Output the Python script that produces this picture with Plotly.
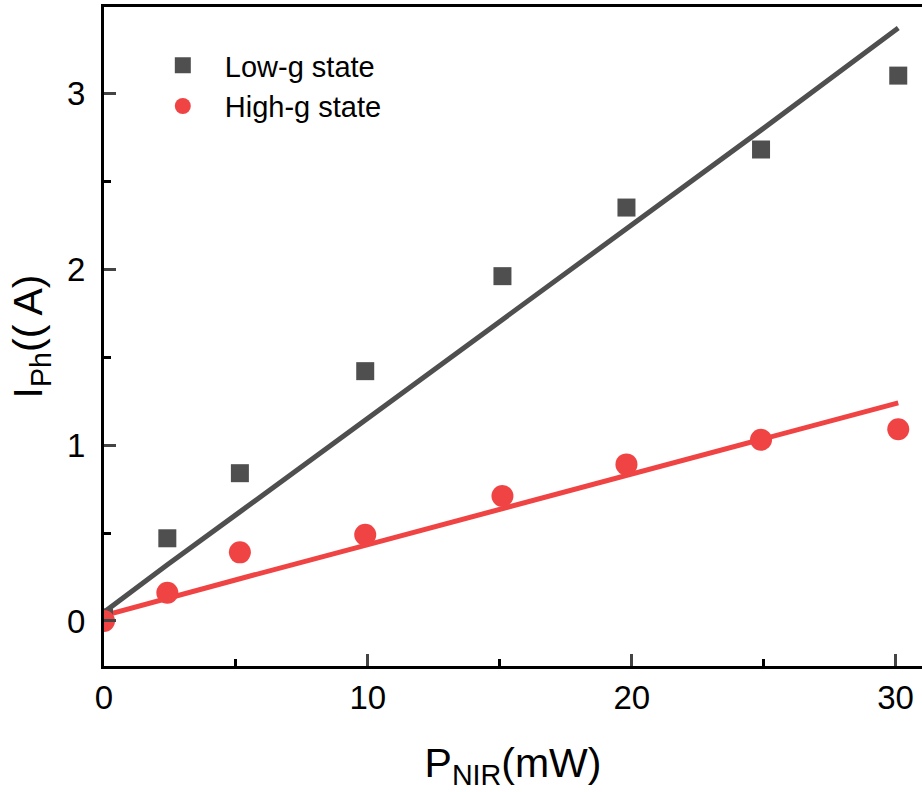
import plotly.graph_objects as go

power = [0, 2.4, 5.15, 9.9, 15.1, 19.8, 24.9, 30.1]
low_g = [0.02, 0.47, 0.84, 1.42, 1.96, 2.35, 2.68, 3.10]
high_g = [0.0, 0.16, 0.39, 0.49, 0.71, 0.89, 1.03, 1.09]
fit_low = [0.05, 0.32, 0.62, 1.14, 1.71, 2.23, 2.79, 3.37]
fit_high = [0.03, 0.13, 0.24, 0.43, 0.64, 0.83, 1.03, 1.24]

gray = "#4f4f4f"
red = "#f04444"

fig = go.Figure()
fig.add_trace(go.Scatter(x=power, y=fit_low, mode="lines", line=dict(color=gray, width=5), showlegend=False))
fig.add_trace(go.Scatter(x=power, y=fit_high, mode="lines", line=dict(color=red, width=5), showlegend=False))
fig.add_trace(go.Scatter(x=power, y=low_g, mode="markers", name="Low-g state", legendgroup="a",
                         marker=dict(symbol="square", size=18, color=gray)))
fig.add_trace(go.Scatter(x=power, y=high_g, mode="markers", name="High-g state", legendgroup="b",
                         marker=dict(symbol="circle", size=22, color=red)))

fig.update_layout(
    width=922, height=792,
    margin=dict(l=104, r=0, t=7, b=126),
    paper_bgcolor="white", plot_bgcolor="white",
    font=dict(family="Arial, Liberation Sans, sans-serif", color="black"),
    legend=dict(x=0.045, y=0.95, xanchor="left", yanchor="top",
                font=dict(size=29), bgcolor="rgba(0,0,0,0)",
                tracegroupgap=0, itemwidth=74),
    xaxis=dict(range=[0, 31.0], tickvals=[0, 10, 20, 30], ticks="inside", ticklen=12, tickwidth=3,
               showline=True, linewidth=3, linecolor="black", mirror=True, showgrid=False, zeroline=False,
               tickfont=dict(size=33),
               minor=dict(tickvals=[5, 15, 25], ticks="inside", ticklen=7, tickwidth=3, tickcolor="black"),
               title=dict(text="P<sub>NIR</sub>(mW)", font=dict(size=41), standoff=34)),
    yaxis=dict(range=[-0.256, 3.49], tickvals=[0, 1, 2, 3], ticks="inside", ticklen=12, tickwidth=3,
               showline=True, linewidth=3, linecolor="black", showgrid=False, zeroline=False,
               tickfont=dict(size=33), ticklabelstandoff=9,
               minor=dict(tickvals=[0.5, 1.5, 2.5], ticks="inside", ticklen=7, tickwidth=3, tickcolor="black"),
               title=dict(text="I<sub>Ph</sub>(( A)", font=dict(size=41), standoff=12)),
)

fig.write_html("out.html")
